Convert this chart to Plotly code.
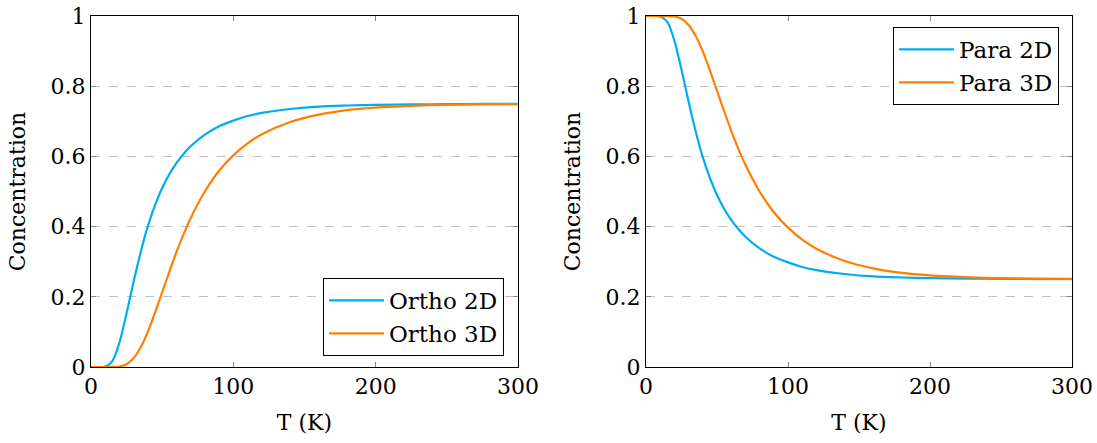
import plotly.graph_objects as go

# Temperatures (K)
T = [0, 5, 10, 15, 20, 25, 30, 35, 40, 45, 50, 55, 60, 65, 70, 80, 90, 100,
     110, 120, 140, 160, 180, 200, 225, 250, 275, 300]

ortho_2d = [0.0, 0.0, 0.001, 0.017, 0.070, 0.153, 0.244, 0.329, 0.402, 0.461,
            0.510, 0.549, 0.581, 0.607, 0.629, 0.662, 0.686, 0.702,
            0.715, 0.724, 0.735, 0.742, 0.745, 0.747, 0.748, 0.749, 0.7495, 0.7497]
ortho_3d = [0.0, 0.0, 0.0, 0.0001, 0.0014, 0.008, 0.0255, 0.057, 0.101, 0.155,
            0.213, 0.271, 0.327, 0.378, 0.424, 0.500, 0.559, 0.603,
            0.637, 0.663, 0.698, 0.719, 0.732, 0.739, 0.744, 0.747, 0.748, 0.749]
para_2d = [1.0, 1.0, 0.999, 0.983, 0.930, 0.847, 0.756, 0.671, 0.598, 0.539,
           0.490, 0.451, 0.419, 0.393, 0.371, 0.338, 0.314, 0.298,
           0.285, 0.276, 0.265, 0.258, 0.255, 0.253, 0.252, 0.251, 0.2505, 0.2503]
para_3d = [1.0, 1.0, 1.0, 0.9999, 0.9986, 0.992, 0.9745, 0.943, 0.899, 0.845,
           0.787, 0.729, 0.673, 0.622, 0.576, 0.500, 0.441, 0.397,
           0.363, 0.337, 0.302, 0.281, 0.268, 0.261, 0.256, 0.253, 0.252, 0.251]

x_ticks = [0, 100, 200, 300]
y_ticks = [0, 0.2, 0.4, 0.6, 0.8, 1]
y_tick_text = ["0", "0.2", "0.4", "0.6", "0.8", "1"]

CYAN = "rgb(0,174,239)"
ORANGE = "rgb(255,128,0)"
FONT = "DejaVu Serif"
FS = 22

fig = go.Figure()
line_kw = dict(shape="spline", smoothing=0.8, width=2.2)
fig.add_trace(go.Scatter(x=T, y=ortho_2d, mode="lines", name="Ortho 2D",
                         line=dict(color=CYAN, **line_kw), xaxis="x", yaxis="y", legend="legend"))
fig.add_trace(go.Scatter(x=T, y=ortho_3d, mode="lines", name="Ortho 3D",
                         line=dict(color=ORANGE, **line_kw), xaxis="x", yaxis="y", legend="legend"))
fig.add_trace(go.Scatter(x=T, y=para_2d, mode="lines", name="Para 2D",
                         line=dict(color=CYAN, **line_kw), xaxis="x2", yaxis="y2", legend="legend2"))
fig.add_trace(go.Scatter(x=T, y=para_3d, mode="lines", name="Para 3D",
                         line=dict(color=ORANGE, **line_kw), xaxis="x2", yaxis="y2", legend="legend2"))

# full-window figure; the page body margin is removed after plotting
W, H = 1097, 443
ml, mt = 91, 16
mr = W - 1072
mb = H - 367
pw = W - ml - mr
ph = H - mt - mb

def px_x(p):
    return (p - ml) / pw

def px_y(p):
    return (H - mb - p) / ph

common_x = dict(range=[0, 300], tickvals=x_ticks, ticks="inside", ticklen=5,
                tickcolor="#888888", showline=True, linecolor="black", linewidth=1,
                mirror="ticks", showgrid=False, zeroline=False, automargin=False,
                ticklabeloverflow="allow",
                tickfont=dict(family=FONT, size=FS, color="black"),
                title=dict(text="T (K)", font=dict(family=FONT, size=FS, color="black"), standoff=16))
common_y = dict(range=[0, 1], tickvals=y_ticks, ticktext=y_tick_text, ticks="inside", ticklen=5,
                tickcolor="#888888", showline=True, linecolor="black", linewidth=1,
                mirror="ticks", showgrid=True, gridcolor="#c0c0c0", griddash="dash", gridwidth=1,
                zeroline=False, automargin=False, ticklabeloverflow="allow",
                tickfont=dict(family=FONT, size=FS, color="black"),
                title=dict(text="Concentration", font=dict(family=FONT, size=FS, color="black"), standoff=18))

legend_common = dict(bordercolor="black", borderwidth=1, bgcolor="white", itemwidth=55,
                     font=dict(family=FONT, size=23, color="black"), tracegroupgap=0)

fig.update_layout(
    width=W, height=H,
    margin=dict(l=ml, r=mr, t=mt, b=mb),
    paper_bgcolor="white", plot_bgcolor="white",
    xaxis=dict(domain=[0, px_x(518)], anchor="y", **common_x),
    yaxis=dict(domain=[0, 1], anchor="x", **common_y),
    xaxis2=dict(domain=[px_x(646), 1], anchor="y2", **common_x),
    yaxis2=dict(domain=[0, 1], anchor="x2", **common_y),
    legend=dict(x=px_x(504), y=px_y(356), xanchor="right", yanchor="bottom", **legend_common),
    legend2=dict(x=px_x(1059), y=px_y(27), xanchor="right", yanchor="top", **legend_common),
    showlegend=True,
)

fig.write_html("out.html", config={"displayModeBar": False},
               post_script="document.body.style.margin='0';document.body.style.overflow='hidden';")
